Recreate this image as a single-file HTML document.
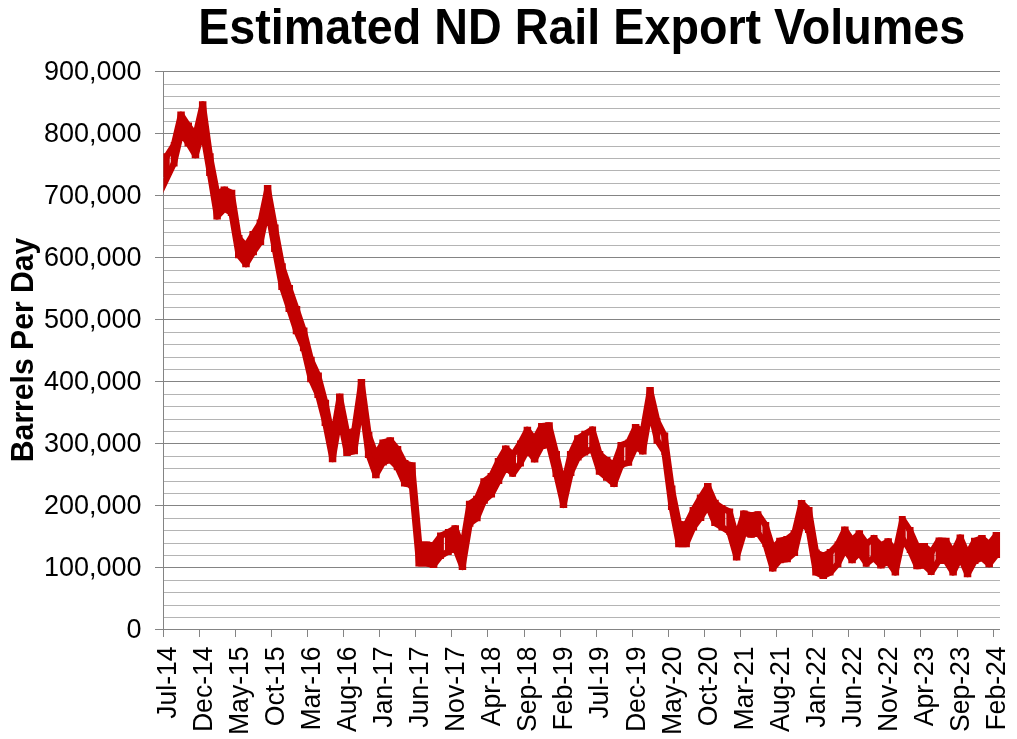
<!DOCTYPE html>
<html><head><meta charset="utf-8"><title>Estimated ND Rail Export Volumes</title>
<style>
html,body{margin:0;padding:0;background:#fff;}
body{width:1017px;height:739px;overflow:hidden;}
svg{display:block;}
text{font-family:"Liberation Sans",Arial,sans-serif;fill:#000;}
</style></head><body>
<svg width="1017" height="739" viewBox="0 0 1017 739">
<rect width="1017" height="739" fill="#fff"/>
<rect x="163.0" y="84" width="837.0" height="1" fill="#b4b4b4"/>
<rect x="163.0" y="96" width="837.0" height="1" fill="#b4b4b4"/>
<rect x="163.0" y="108" width="837.0" height="1" fill="#b4b4b4"/>
<rect x="163.0" y="121" width="837.0" height="1" fill="#b4b4b4"/>
<rect x="163.0" y="146" width="837.0" height="1" fill="#b4b4b4"/>
<rect x="163.0" y="158" width="837.0" height="1" fill="#b4b4b4"/>
<rect x="163.0" y="170" width="837.0" height="1" fill="#b4b4b4"/>
<rect x="163.0" y="183" width="837.0" height="1" fill="#b4b4b4"/>
<rect x="163.0" y="208" width="837.0" height="1" fill="#b4b4b4"/>
<rect x="163.0" y="220" width="837.0" height="1" fill="#b4b4b4"/>
<rect x="163.0" y="232" width="837.0" height="1" fill="#b4b4b4"/>
<rect x="163.0" y="245" width="837.0" height="1" fill="#b4b4b4"/>
<rect x="163.0" y="270" width="837.0" height="1" fill="#b4b4b4"/>
<rect x="163.0" y="282" width="837.0" height="1" fill="#b4b4b4"/>
<rect x="163.0" y="294" width="837.0" height="1" fill="#b4b4b4"/>
<rect x="163.0" y="307" width="837.0" height="1" fill="#b4b4b4"/>
<rect x="163.0" y="332" width="837.0" height="1" fill="#b4b4b4"/>
<rect x="163.0" y="344" width="837.0" height="1" fill="#b4b4b4"/>
<rect x="163.0" y="357" width="837.0" height="1" fill="#b4b4b4"/>
<rect x="163.0" y="369" width="837.0" height="1" fill="#b4b4b4"/>
<rect x="163.0" y="394" width="837.0" height="1" fill="#b4b4b4"/>
<rect x="163.0" y="406" width="837.0" height="1" fill="#b4b4b4"/>
<rect x="163.0" y="419" width="837.0" height="1" fill="#b4b4b4"/>
<rect x="163.0" y="431" width="837.0" height="1" fill="#b4b4b4"/>
<rect x="163.0" y="456" width="837.0" height="1" fill="#b4b4b4"/>
<rect x="163.0" y="468" width="837.0" height="1" fill="#b4b4b4"/>
<rect x="163.0" y="481" width="837.0" height="1" fill="#b4b4b4"/>
<rect x="163.0" y="493" width="837.0" height="1" fill="#b4b4b4"/>
<rect x="163.0" y="518" width="837.0" height="1" fill="#b4b4b4"/>
<rect x="163.0" y="530" width="837.0" height="1" fill="#b4b4b4"/>
<rect x="163.0" y="543" width="837.0" height="1" fill="#b4b4b4"/>
<rect x="163.0" y="555" width="837.0" height="1" fill="#b4b4b4"/>
<rect x="163.0" y="580" width="837.0" height="1" fill="#b4b4b4"/>
<rect x="163.0" y="592" width="837.0" height="1" fill="#b4b4b4"/>
<rect x="163.0" y="605" width="837.0" height="1" fill="#b4b4b4"/>
<rect x="163.0" y="617" width="837.0" height="1" fill="#b4b4b4"/>
<rect x="155.0" y="71" width="845.0" height="1" fill="#848484"/>
<rect x="155.0" y="133" width="845.0" height="1" fill="#848484"/>
<rect x="155.0" y="195" width="845.0" height="1" fill="#848484"/>
<rect x="155.0" y="257" width="845.0" height="1" fill="#848484"/>
<rect x="155.0" y="319" width="845.0" height="1" fill="#848484"/>
<rect x="155.0" y="381" width="845.0" height="1" fill="#848484"/>
<rect x="155.0" y="443" width="845.0" height="1" fill="#848484"/>
<rect x="155.0" y="505" width="845.0" height="1" fill="#848484"/>
<rect x="155.0" y="567" width="845.0" height="1" fill="#848484"/>
<rect x="155.0" y="629" width="845.0" height="1" fill="#848484"/>
<rect x="163.0" y="71" width="1" height="559" fill="#848484"/>
<rect x="163" y="629" width="1" height="8" fill="#848484"/>
<rect x="199" y="629" width="1" height="8" fill="#848484"/>
<rect x="235" y="629" width="1" height="8" fill="#848484"/>
<rect x="271" y="629" width="1" height="8" fill="#848484"/>
<rect x="307" y="629" width="1" height="8" fill="#848484"/>
<rect x="343" y="629" width="1" height="8" fill="#848484"/>
<rect x="379" y="629" width="1" height="8" fill="#848484"/>
<rect x="415" y="629" width="1" height="8" fill="#848484"/>
<rect x="451" y="629" width="1" height="8" fill="#848484"/>
<rect x="487" y="629" width="1" height="8" fill="#848484"/>
<rect x="524" y="629" width="1" height="8" fill="#848484"/>
<rect x="560" y="629" width="1" height="8" fill="#848484"/>
<rect x="596" y="629" width="1" height="8" fill="#848484"/>
<rect x="632" y="629" width="1" height="8" fill="#848484"/>
<rect x="668" y="629" width="1" height="8" fill="#848484"/>
<rect x="704" y="629" width="1" height="8" fill="#848484"/>
<rect x="740" y="629" width="1" height="8" fill="#848484"/>
<rect x="776" y="629" width="1" height="8" fill="#848484"/>
<rect x="812" y="629" width="1" height="8" fill="#848484"/>
<rect x="848" y="629" width="1" height="8" fill="#848484"/>
<rect x="884" y="629" width="1" height="8" fill="#848484"/>
<rect x="920" y="629" width="1" height="8" fill="#848484"/>
<rect x="957" y="629" width="1" height="8" fill="#848484"/>
<rect x="993" y="629" width="1" height="8" fill="#848484"/>
<clipPath id="pc"><rect x="163.4" y="60" width="837.0" height="580"/></clipPath>
<g clip-path="url(#pc)" fill="#c30000" stroke="none">
<path d="M162.85 153.30H169.72V177.00H162.85ZM170.72 142.00H177.58V166.60H170.72ZM177.28 111.60H184.80V136.00H177.28ZM184.50 122.50H192.01V146.40H184.50ZM191.71 132.50H199.23V158.30H191.71ZM198.93 101.20H206.44V134.00H198.93ZM206.14 153.30H213.66V176.00H206.14ZM213.36 191.00H220.87V219.60H213.36ZM220.57 186.50H228.09V212.00H220.57ZM227.79 189.80H235.31V215.90H227.79ZM235.01 235.00H242.52V258.30H235.01ZM242.22 243.00H249.74V267.30H242.22ZM249.44 231.00H256.95V255.30H249.44ZM256.65 219.60H264.17V245.00H256.65ZM263.87 185.00H271.38V212.00H263.87ZM271.08 224.40H278.60V252.00H271.08ZM278.30 263.20H285.81V290.00H278.30ZM285.51 285.00H293.03V312.00H285.51ZM292.73 306.00H300.24V334.20H292.73ZM299.94 327.50H307.46V351.30H299.94ZM307.16 356.70H314.68V382.20H307.16ZM314.38 372.50H321.89V398.00H314.38ZM321.59 399.80H329.11V426.00H321.59ZM328.81 436.00H336.32V462.20H328.81ZM336.02 393.60H343.54V420.00H336.02ZM343.24 430.00H350.75V456.00H343.24ZM350.45 428.30H357.97V454.30H350.45ZM357.67 379.00H365.18V405.00H357.67ZM364.88 432.00H372.40V457.90H364.88ZM372.10 452.00H379.62V478.20H372.10ZM379.32 439.40H386.83V465.40H379.32ZM386.53 437.30H394.05V463.00H386.53ZM393.75 446.10H401.26V470.30H393.75ZM400.96 460.00H408.48V486.50H400.96ZM408.18 462.30H415.69V488.30H408.18ZM415.39 541.50H422.91V566.50H415.39ZM422.61 541.40H430.12V566.50H422.61ZM429.82 542.30H437.34V568.10H429.82ZM437.04 532.60H443.91V559.00H437.04ZM444.91 529.10H451.77V555.00H444.91ZM451.47 525.20H458.99V551.20H451.47ZM458.69 544.00H466.20V570.10H458.69ZM465.90 500.70H473.42V526.70H465.90ZM473.12 495.80H480.63V521.30H473.12ZM480.33 478.20H487.85V503.70H480.33ZM487.55 472.90H495.06V497.60H487.55ZM494.76 458.00H502.28V484.00H494.76ZM501.98 445.40H509.49V470.30H501.98ZM509.19 451.50H516.06V476.80H509.19ZM517.06 440.40H523.93V466.50H517.06ZM523.63 426.70H531.14V452.70H523.63ZM530.84 436.40H538.36V462.40H530.84ZM538.06 422.90H545.57V449.00H538.06ZM545.27 422.30H552.79V448.00H545.27ZM552.49 451.00H560.00V477.00H552.49ZM559.70 482.00H567.22V508.10H559.70ZM566.92 451.00H574.43V476.00H566.92ZM574.13 435.20H581.65V460.50H574.13ZM581.35 430.80H588.22V455.40H581.35ZM589.22 426.40H596.08V452.00H589.22ZM595.78 451.00H603.30V474.70H595.78ZM603.00 457.00H610.51V480.80H603.00ZM610.21 462.00H617.73V487.00H610.21ZM617.43 442.10H624.29V468.00H617.43ZM625.29 439.40H632.16V465.80H625.29ZM631.86 424.10H639.37V450.00H631.86ZM639.07 428.40H646.59V454.40H639.07ZM646.29 387.10H653.81V413.00H646.29ZM653.51 418.00H660.37V443.80H653.51ZM661.37 432.40H668.24V455.00H661.37ZM667.94 485.40H675.45V510.00H667.94ZM675.15 521.00H682.67V547.20H675.15ZM682.37 521.50H689.88V547.20H682.37ZM689.58 507.00H697.10V530.50H689.58ZM696.80 494.50H704.31V520.90H696.80ZM704.01 483.10H711.53V509.00H704.01ZM711.23 499.80H718.74V526.10H711.23ZM718.44 505.00H725.31V530.50H718.44ZM726.31 508.50H733.18V535.00H726.31ZM732.88 534.50H740.39V560.40H732.88ZM740.09 510.40H747.61V536.00H740.09ZM747.31 512.20H754.82V537.70H747.31ZM754.52 511.30H761.39V536.50H754.52ZM762.39 521.90H769.25V547.00H762.39ZM768.95 545.60H776.47V571.60H768.95ZM776.17 537.70H783.68V563.20H776.17ZM783.38 535.90H790.90V562.30H783.38ZM790.60 530.30H798.12V556.10H790.60ZM797.82 499.90H805.33V526.00H797.82ZM805.03 506.90H812.55V533.00H805.03ZM812.25 549.50H819.76V575.50H812.25ZM819.46 552.60H826.98V579.00H819.46ZM826.68 549.10H833.54V575.50H826.68ZM834.54 541.50H841.41V567.20H834.54ZM841.11 526.60H848.62V552.60H841.11ZM848.32 537.20H855.84V563.20H848.32ZM855.54 530.30H863.06V556.10H855.54ZM862.76 540.50H869.62V566.70H862.76ZM870.62 535.00H877.49V561.00H870.62ZM877.19 542.40H884.70V568.40H877.19ZM884.40 538.20H891.92V565.00H884.40ZM891.62 549.50H899.13V575.50H891.62ZM898.83 516.10H905.70V542.00H898.83ZM906.70 527.10H913.56V553.00H906.70ZM913.26 543.30H920.78V569.30H913.26ZM920.48 543.00H927.99V568.40H920.48ZM927.69 549.00H934.56V575.10H927.69ZM935.56 537.50H942.43V564.00H935.56ZM942.13 537.70H949.64V564.00H942.13ZM949.34 549.50H956.86V575.50H949.34ZM956.56 534.50H964.07V560.50H956.56ZM963.77 551.00H971.29V577.20H963.77ZM970.99 537.70H978.50V564.00H970.99ZM978.20 535.00H985.72V561.00H978.20ZM985.42 541.00H992.93V567.20H985.42ZM992.63 531.90H1000.15V557.90H992.63Z"/>
<polyline points="166.61,156.50 173.82,145.20 181.04,114.80 188.25,125.70 195.47,135.70 202.69,104.40 209.90,156.50 217.12,194.20 224.33,189.70 231.55,193.00 238.76,238.20 245.98,246.20 253.19,234.20 260.41,222.80 267.62,188.20 274.84,227.60 282.06,266.40 289.27,288.20 296.49,309.20 303.70,330.70 310.92,359.90 318.13,375.70 325.35,403.00 332.56,439.20 339.78,396.80 347.00,433.20 354.21,431.50 361.43,382.20 368.64,435.20 375.86,455.20 383.07,442.60 390.29,440.50 397.50,449.30 404.72,463.20 411.94,465.50 419.15,544.70 426.37,544.60 433.58,545.50 440.80,535.80 448.01,532.30 455.23,528.40 462.44,547.20 469.66,503.90 476.88,499.00 484.09,481.40 491.31,476.10 498.52,461.20 505.74,448.60 512.95,454.70 520.17,443.60 527.38,429.90 534.60,439.60 541.81,426.10 549.03,425.50 556.25,454.20 563.46,485.20 570.68,454.20 577.89,438.40 585.11,434.00 592.32,429.60 599.54,454.20 606.75,460.20 613.97,465.20 621.19,445.30 628.40,442.60 635.62,427.30 642.83,431.60 650.05,390.30 657.26,421.20 664.48,435.60 671.69,488.60 678.91,524.20 686.12,524.70 693.34,510.20 700.56,497.70 707.77,486.30 714.99,503.00 722.20,508.20 729.42,511.70 736.63,537.70 743.85,513.60 751.06,515.40 758.28,514.50 765.50,525.10 772.71,548.80 779.93,540.90 787.14,539.10 794.36,533.50 801.57,503.10 808.79,510.10 816.00,552.70 823.22,555.80 830.44,552.30 837.65,544.70 844.87,529.80 852.08,540.40 859.30,533.50 866.51,543.70 873.73,538.20 880.94,545.60 888.16,541.40 895.38,552.70 902.59,519.30 909.81,530.30 917.02,546.50 924.24,546.20 931.45,552.20 938.67,540.70 945.88,540.90 953.10,552.70 960.31,537.70 967.53,554.20 974.75,540.90 981.96,538.20 989.18,544.20 996.39,535.10" fill="none" stroke="#c30000" stroke-width="6.4" stroke-linejoin="round" stroke-linecap="butt"/>
<polyline points="158.00,196.50 173.82,163.40 181.04,132.80 188.25,143.20 195.47,155.10 202.69,130.80 209.90,172.80 217.12,216.40 224.33,208.80 231.55,212.70 238.76,255.10 245.98,264.10 253.19,252.10 260.41,241.80 267.62,208.80 274.84,248.80 282.06,286.80 289.27,308.80 296.49,331.00 303.70,348.10 310.92,379.00 318.13,394.80 325.35,422.80 332.56,459.00 339.78,416.80 347.00,452.80 354.21,451.10 361.43,401.80 368.64,454.70 375.86,475.00 383.07,462.20 390.29,459.80 397.50,467.10 404.72,483.30 411.94,485.10 419.15,563.30 426.37,563.30 433.58,564.90 440.80,555.80 448.01,551.80 455.23,548.00 462.44,566.90 469.66,523.50 476.88,518.10 484.09,500.50 491.31,494.40 498.52,480.80 505.74,467.10 512.95,473.60 520.17,463.30 527.38,449.50 534.60,459.20 541.81,445.80 549.03,444.80 556.25,473.80 563.46,504.90 570.68,472.80 577.89,457.30 585.11,452.20 592.32,448.80 599.54,471.50 606.75,477.60 613.97,483.80 621.19,464.80 628.40,462.60 635.62,446.80 642.83,451.20 650.05,409.80 657.26,440.60 664.48,451.80 671.69,506.80 678.91,544.00 686.12,544.00 693.34,527.30 700.56,517.70 707.77,505.80 714.99,522.90 722.20,527.30 729.42,531.80 736.63,557.20 743.85,532.80 751.06,534.50 758.28,533.30 765.50,543.80 772.71,568.40 779.93,560.00 787.14,559.10 794.36,552.90 801.57,522.80 808.79,529.80 816.00,572.30 823.22,575.80 830.44,572.30 837.65,564.00 844.87,549.40 852.08,560.00 859.30,552.90 866.51,563.50 873.73,557.80 880.94,565.20 888.16,561.80 895.38,572.30 902.59,538.80 909.81,549.80 917.02,566.10 924.24,565.20 931.45,571.90 938.67,560.80 945.88,560.80 953.10,572.30 960.31,557.30 967.53,574.00 974.75,560.80 981.96,557.80 989.18,564.00 996.39,554.70" fill="none" stroke="#c30000" stroke-width="6.4" stroke-linejoin="round" stroke-linecap="butt"/>
</g>

<text transform="translate(141.6,637.60) scale(1,1.02)" font-size="27" text-anchor="end">0</text>
<text transform="translate(141.6,575.60) scale(1,1.02)" font-size="27" text-anchor="end">100,000</text>
<text transform="translate(141.6,513.60) scale(1,1.02)" font-size="27" text-anchor="end">200,000</text>
<text transform="translate(141.6,451.60) scale(1,1.02)" font-size="27" text-anchor="end">300,000</text>
<text transform="translate(141.6,389.60) scale(1,1.02)" font-size="27" text-anchor="end">400,000</text>
<text transform="translate(141.6,327.60) scale(1,1.02)" font-size="27" text-anchor="end">500,000</text>
<text transform="translate(141.6,265.60) scale(1,1.02)" font-size="27" text-anchor="end">600,000</text>
<text transform="translate(141.6,203.60) scale(1,1.02)" font-size="27" text-anchor="end">700,000</text>
<text transform="translate(141.6,141.60) scale(1,1.02)" font-size="27" text-anchor="end">800,000</text>
<text transform="translate(141.6,79.60) scale(1,1.02)" font-size="27" text-anchor="end">900,000</text>
<text transform="translate(175.50,646.4) rotate(-90) scale(0.985,1.04)" font-size="27" text-anchor="end">Jul-14</text>
<text transform="translate(211.58,646.4) rotate(-90) scale(0.985,1.04)" font-size="27" text-anchor="end">Dec-14</text>
<text transform="translate(247.66,646.4) rotate(-90) scale(0.985,1.04)" font-size="27" text-anchor="end">May-15</text>
<text transform="translate(283.73,646.4) rotate(-90) scale(0.985,1.04)" font-size="27" text-anchor="end">Oct-15</text>
<text transform="translate(319.81,646.4) rotate(-90) scale(0.985,1.04)" font-size="27" text-anchor="end">Mar-16</text>
<text transform="translate(355.89,646.4) rotate(-90) scale(0.985,1.04)" font-size="27" text-anchor="end">Aug-16</text>
<text transform="translate(391.97,646.4) rotate(-90) scale(0.985,1.04)" font-size="27" text-anchor="end">Jan-17</text>
<text transform="translate(428.04,646.4) rotate(-90) scale(0.985,1.04)" font-size="27" text-anchor="end">Jun-17</text>
<text transform="translate(464.12,646.4) rotate(-90) scale(0.985,1.04)" font-size="27" text-anchor="end">Nov-17</text>
<text transform="translate(500.20,646.4) rotate(-90) scale(0.985,1.04)" font-size="27" text-anchor="end">Apr-18</text>
<text transform="translate(536.28,646.4) rotate(-90) scale(0.985,1.04)" font-size="27" text-anchor="end">Sep-18</text>
<text transform="translate(572.35,646.4) rotate(-90) scale(0.985,1.04)" font-size="27" text-anchor="end">Feb-19</text>
<text transform="translate(608.43,646.4) rotate(-90) scale(0.985,1.04)" font-size="27" text-anchor="end">Jul-19</text>
<text transform="translate(644.51,646.4) rotate(-90) scale(0.985,1.04)" font-size="27" text-anchor="end">Dec-19</text>
<text transform="translate(680.59,646.4) rotate(-90) scale(0.985,1.04)" font-size="27" text-anchor="end">May-20</text>
<text transform="translate(716.66,646.4) rotate(-90) scale(0.985,1.04)" font-size="27" text-anchor="end">Oct-20</text>
<text transform="translate(752.74,646.4) rotate(-90) scale(0.985,1.04)" font-size="27" text-anchor="end">Mar-21</text>
<text transform="translate(788.82,646.4) rotate(-90) scale(0.985,1.04)" font-size="27" text-anchor="end">Aug-21</text>
<text transform="translate(824.90,646.4) rotate(-90) scale(0.985,1.04)" font-size="27" text-anchor="end">Jan-22</text>
<text transform="translate(860.97,646.4) rotate(-90) scale(0.985,1.04)" font-size="27" text-anchor="end">Jun-22</text>
<text transform="translate(897.05,646.4) rotate(-90) scale(0.985,1.04)" font-size="27" text-anchor="end">Nov-22</text>
<text transform="translate(933.13,646.4) rotate(-90) scale(0.985,1.04)" font-size="27" text-anchor="end">Apr-23</text>
<text transform="translate(969.21,646.4) rotate(-90) scale(0.985,1.04)" font-size="27" text-anchor="end">Sep-23</text>
<text transform="translate(1005.28,646.4) rotate(-90) scale(0.985,1.04)" font-size="27" text-anchor="end">Feb-24</text>
<text transform="translate(32.8,349.9) rotate(-90) scale(1,1.035)" font-size="30.15" font-weight="bold" text-anchor="middle">Barrels Per Day</text>
<text transform="translate(581.7,44) scale(0.998,1.065)" font-size="46.8" font-weight="bold" text-anchor="middle">Estimated ND Rail Export Volumes</text>
</svg></body></html>
